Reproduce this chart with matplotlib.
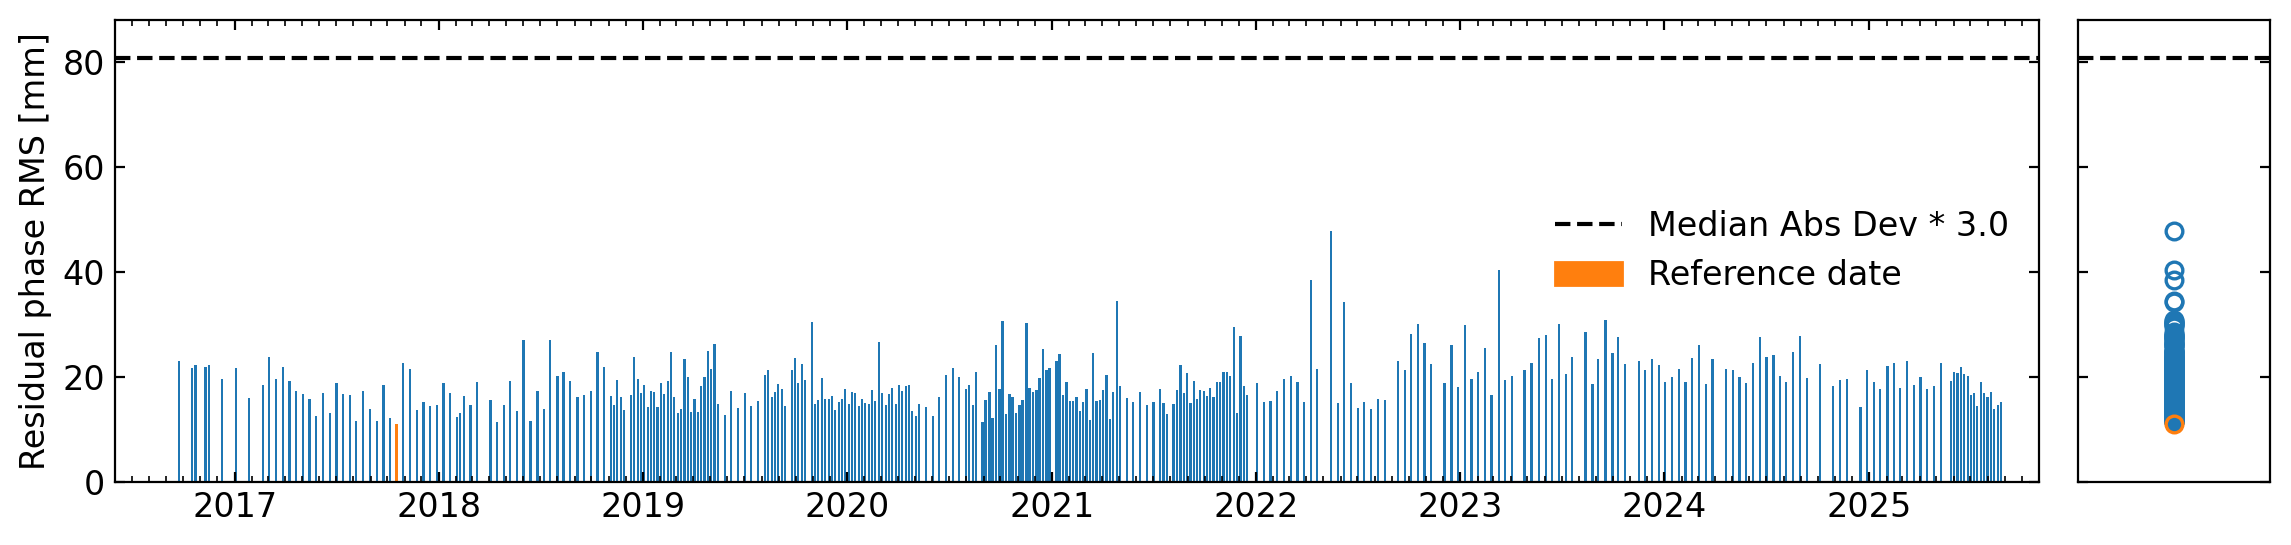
import datetime as dt
import numpy as np
import matplotlib
matplotlib.use("Agg")
import matplotlib.pyplot as plt
import matplotlib.dates as mdates
from matplotlib.lines import Line2D
from matplotlib.patches import Patch

# ---------------- data (decimal years, residual phase RMS in mm) ----------------
dates_2016 = [2016.728, 2016.793, 2016.809, 2016.858, 2016.875, 2016.940]
rms_2016 = [23.1, 21.6, 22.2, 21.8, 22.2, 19.5]

dates_2017 = [2017.008, 2017.072, 2017.139, 2017.168, 2017.204, 2017.238, 2017.269, 2017.301,
              2017.336, 2017.367, 2017.399, 2017.432, 2017.468, 2017.499, 2017.531, 2017.565,
              2017.596, 2017.629, 2017.663, 2017.696, 2017.729, 2017.761, 2017.826, 2017.858,
              2017.892, 2017.925, 2017.958, 2017.990]
rms_2017 = [21.6, 15.9, 18.4, 23.7, 19.5, 21.8, 19.1, 17.2, 16.7, 15.7, 12.5, 16.9, 13.1, 18.8,
            16.7, 16.5, 11.5, 17.2, 13.8, 11.5, 18.4, 12.1, 22.6, 21.4, 13.6, 15.2, 14.4, 14.6]

dates_2018 = [2018.023, 2018.055, 2018.088, 2018.104, 2018.122, 2018.155, 2018.186, 2018.253,
              2018.285, 2018.318, 2018.350, 2018.384, 2018.415, 2018.449, 2018.484, 2018.516,
              2018.546, 2018.581, 2018.611, 2018.643, 2018.679, 2018.712, 2018.744, 2018.777,
              2018.809, 2018.842, 2018.858, 2018.874, 2018.894, 2018.909, 2018.943, 2018.958,
              2018.974, 2018.992]
rms_2018 = [18.8, 16.9, 12.3, 13.1, 16.3, 14.6, 19.0, 15.5, 11.4, 14.6, 19.1, 13.4, 27.1, 11.5,
            17.2, 13.8, 27.1, 20.1, 21.0, 19.1, 16.1, 16.5, 17.2, 24.7, 21.8, 16.3, 14.6, 19.3,
            16.1, 13.6, 16.5, 23.7, 19.5, 16.9]

dates_2019 = [2019.006, 2019.023, 2019.041, 2019.055, 2019.071, 2019.089, 2019.104, 2019.124,
              2019.138, 2019.153, 2019.172, 2019.187, 2019.203, 2019.221, 2019.236, 2019.252,
              2019.270, 2019.285, 2019.301, 2019.319, 2019.334, 2019.350, 2019.368, 2019.402,
              2019.431, 2019.466, 2019.500, 2019.529, 2019.563, 2019.598, 2019.612, 2019.632,
              2019.646, 2019.661, 2019.681, 2019.695, 2019.729, 2019.744, 2019.760, 2019.778,
              2019.793, 2019.827, 2019.842, 2019.856, 2019.876, 2019.891, 2019.910, 2019.925,
              2019.939, 2019.959, 2019.974, 2019.990]
rms_2019 = [18.4, 14.2, 17.2, 17.1, 14.2, 18.8, 16.7, 19.1, 24.7, 16.1, 13.1, 13.8, 23.3, 19.9,
            13.3, 15.7, 13.3, 18.2, 19.9, 25.0, 21.4, 26.2, 14.8, 12.7, 17.2, 14.0, 16.9, 14.4,
            15.3, 20.3, 21.2, 16.1, 17.1, 18.6, 17.6, 14.4, 21.2, 23.5, 18.8, 22.4, 19.3, 30.4,
            14.8, 15.5, 19.7, 15.7, 15.7, 16.3, 13.6, 15.2, 15.7, 17.6]

dates_2020 = [2020.008, 2020.023, 2020.039, 2020.057, 2020.071, 2020.086, 2020.106, 2020.120,
              2020.135, 2020.154, 2020.169, 2020.189, 2020.203, 2020.218, 2020.238, 2020.252,
              2020.267, 2020.286, 2020.301, 2020.317, 2020.335, 2020.350, 2020.384, 2020.418,
              2020.448, 2020.482, 2020.516, 2020.545, 2020.579, 2020.594, 2020.614, 2020.628,
              2020.661, 2020.676, 2020.695, 2020.710, 2020.728, 2020.744, 2020.759, 2020.776,
              2020.793, 2020.808, 2020.825, 2020.842, 2020.857, 2020.876, 2020.891, 2020.907,
              2020.925, 2020.940, 2020.956, 2020.974, 2020.988]
rms_2020 = [14.8, 17.1, 16.9, 14.4, 15.7, 15.0, 14.8, 17.4, 15.3, 26.6, 16.9, 14.6, 16.7, 17.8,
            14.8, 18.4, 17.2, 18.2, 18.4, 13.4, 12.5, 14.8, 14.2, 12.5, 16.1, 20.3, 21.6, 19.9,
            17.6, 18.4, 14.6, 21.0, 11.4, 15.5, 17.1, 12.1, 26.0, 17.6, 30.6, 12.9, 16.7, 16.1,
            13.1, 14.6, 15.5, 30.2, 17.8, 17.1, 17.4, 19.7, 25.2, 21.2, 21.6]

dates_2021 = [2021.023, 2021.037, 2021.055, 2021.071, 2021.087, 2021.104, 2021.120, 2021.136,
              2021.154, 2021.170, 2021.187, 2021.203, 2021.219, 2021.235, 2021.252, 2021.268,
              2021.284, 2021.301, 2021.317, 2021.333, 2021.366, 2021.399, 2021.433, 2021.465,
              2021.498, 2021.531, 2021.547, 2021.563, 2021.596, 2021.614, 2021.630, 2021.646,
              2021.662, 2021.679, 2021.695, 2021.711, 2021.727, 2021.744, 2021.760, 2021.776,
              2021.792, 2021.809, 2021.825, 2021.841, 2021.857, 2021.874, 2021.893, 2021.908,
              2021.924, 2021.941, 2021.957]
rms_2021 = [23.0, 24.3, 16.5, 19.0, 15.3, 15.3, 16.1, 13.4, 15.2, 17.6, 11.7, 24.5, 15.3, 15.5,
            17.4, 20.3, 11.9, 17.1, 34.5, 18.2, 15.9, 15.2, 17.1, 14.6, 15.2, 17.6, 15.0, 12.9,
            14.8, 17.4, 22.2, 16.9, 20.7, 15.0, 19.1, 15.7, 17.4, 17.2, 16.3, 17.8, 16.1, 19.0,
            19.0, 20.9, 20.9, 20.1, 29.4, 13.1, 27.7, 18.2, 16.5]

dates_2022 = [2022.006, 2022.040, 2022.071, 2022.104, 2022.138, 2022.172, 2022.203, 2022.235,
              2022.270, 2022.299, 2022.367, 2022.400, 2022.431, 2022.465, 2022.498, 2022.529,
              2022.563, 2022.596, 2022.630, 2022.695, 2022.729, 2022.758, 2022.792, 2022.825,
              2022.857, 2022.923, 2022.957, 2022.988]
rms_2022 = [18.8, 15.2, 15.3, 17.2, 19.5, 20.1, 19.0, 15.2, 38.4, 21.4, 47.7, 15.0, 34.3, 18.8,
            14.0, 15.2, 13.8, 15.7, 15.5, 23.1, 21.2, 28.1, 30.0, 26.4, 22.4, 18.8, 26.0, 18.0]

dates_2023 = [2023.022, 2023.055, 2023.086, 2023.120, 2023.153, 2023.188, 2023.218, 2023.252,
              2023.315, 2023.349, 2023.384, 2023.418, 2023.449, 2023.482, 2023.516, 2023.546,
              2023.613, 2023.647, 2023.676, 2023.711, 2023.745, 2023.774, 2023.808, 2023.877,
              2023.906, 2023.940, 2023.974]
rms_2023 = [29.8, 19.5, 20.9, 25.4, 16.5, 40.3, 19.3, 20.1, 21.2, 22.6, 27.3, 27.9, 19.5, 30.0,
            20.5, 23.7, 28.5, 18.6, 23.3, 30.9, 24.5, 27.5, 22.4, 23.0, 21.2, 23.3, 22.2]

dates_2024 = [2024.004, 2024.038, 2024.072, 2024.103, 2024.136, 2024.170, 2024.204, 2024.235,
              2024.302, 2024.333, 2024.366, 2024.400, 2024.434, 2024.465, 2024.498, 2024.532,
              2024.564, 2024.595, 2024.629, 2024.663, 2024.696, 2024.761, 2024.824, 2024.859,
              2024.893, 2024.957, 2024.991]
rms_2024 = [19.0, 19.9, 21.4, 19.0, 23.5, 26.0, 18.6, 23.3, 21.4, 21.2, 19.9, 18.8, 22.6, 27.5,
            23.7, 24.1, 20.1, 19.0, 24.7, 27.7, 19.7, 22.4, 18.2, 19.3, 19.5, 14.2, 21.2]

dates_2025 = [2025.022, 2025.054, 2025.089, 2025.123, 2025.152, 2025.186, 2025.220, 2025.251,
              2025.284, 2025.318, 2025.351, 2025.401, 2025.416, 2025.432, 2025.450, 2025.465,
              2025.483, 2025.499, 2025.513, 2025.529, 2025.548, 2025.564, 2025.579, 2025.595,
              2025.611, 2025.631, 2025.645]
rms_2025 = [19.0, 17.6, 22.0, 22.6, 17.8, 23.0, 18.4, 19.9, 17.6, 18.2, 22.6, 19.1, 21.0, 20.7,
            21.8, 20.5, 20.1, 16.5, 16.9, 14.4, 19.0, 16.9, 16.1, 17.1, 13.8, 14.6, 15.2]

ref_date = 2017.793
ref_rms = 11.0
mad_threshold = 80.8          # Median Abs Dev * 3.0
x_limits = (2016.416, 2025.833)
y_limits = (0, 88)

# ---------------------------------------------------------------------------------
def to_datetime(y):
    year = int(np.floor(y))
    start = dt.datetime(year, 1, 1)
    end = dt.datetime(year + 1, 1, 1)
    return start + (end - start) * (y - year)

all_dates = (dates_2016 + dates_2017 + dates_2018 + dates_2019 + dates_2020 + dates_2021 +
             dates_2022 + dates_2023 + dates_2024 + dates_2025)
all_rms = (rms_2016 + rms_2017 + rms_2018 + rms_2019 + rms_2020 + rms_2021 +
           rms_2022 + rms_2023 + rms_2024 + rms_2025)

x = [to_datetime(d) for d in all_dates]
x_ref = to_datetime(ref_date)

plt.rcParams['font.size'] = 12
W, H = 2291, 545
fig = plt.figure(figsize=(W / 200, H / 200), dpi=200)

ax = fig.add_axes([115 / W, 1 - 481.7 / H, (2039.3 - 115) / W, (481.7 - 20) / H])
ax2 = fig.add_axes([2077.7 / W, 1 - 481.7 / H, (2270 - 2077.7) / W, (481.7 - 20) / H])

bar_w = 4.0  # days
ax.bar(x, all_rms, width=bar_w, color='C0', linewidth=0)
ax.bar([x_ref], [ref_rms], width=bar_w, color='C1', linewidth=0)
ax.axhline(mad_threshold, color='k', ls='--', lw=1.5)

ax.set_xlim(to_datetime(x_limits[0]), to_datetime(x_limits[1]))
ax.set_ylim(*y_limits)
ax.xaxis.set_major_locator(mdates.YearLocator())
ax.xaxis.set_major_formatter(mdates.DateFormatter('%Y'))
ax.xaxis.set_minor_locator(mdates.MonthLocator())
ax.yaxis.set_major_locator(matplotlib.ticker.MultipleLocator(20))
ax.tick_params(which='both', direction='in', top=True, right=True, labelsize=12)
ax.set_ylabel('Residual phase RMS [mm]', fontsize=12)

handles = [Line2D([], [], color='k', ls='--', lw=1.5), Patch(color='C1')]
labels = ['Median Abs Dev * 3.0', 'Reference date']
ax.legend(handles, labels, loc='center right', frameon=False, fontsize=12)

# side panel: distribution of values
ax2.plot(np.zeros(len(all_rms)), all_rms, 'o', mfc='none', mec='C0', ms=6, mew=1.2)
ax2.plot([0], [ref_rms], 'o', mfc='none', mec='C1', ms=6, mew=1.2)
ax2.axhline(mad_threshold, color='k', ls='--', lw=1.5)
ax2.set_xlim(-1, 1)
ax2.set_ylim(*y_limits)
ax2.yaxis.set_major_locator(matplotlib.ticker.MultipleLocator(20))
ax2.set_xticks([])
ax2.tick_params(axis='y', direction='in', left=True, right=True, labelleft=False)

fig.savefig('out.png', dpi=200)
